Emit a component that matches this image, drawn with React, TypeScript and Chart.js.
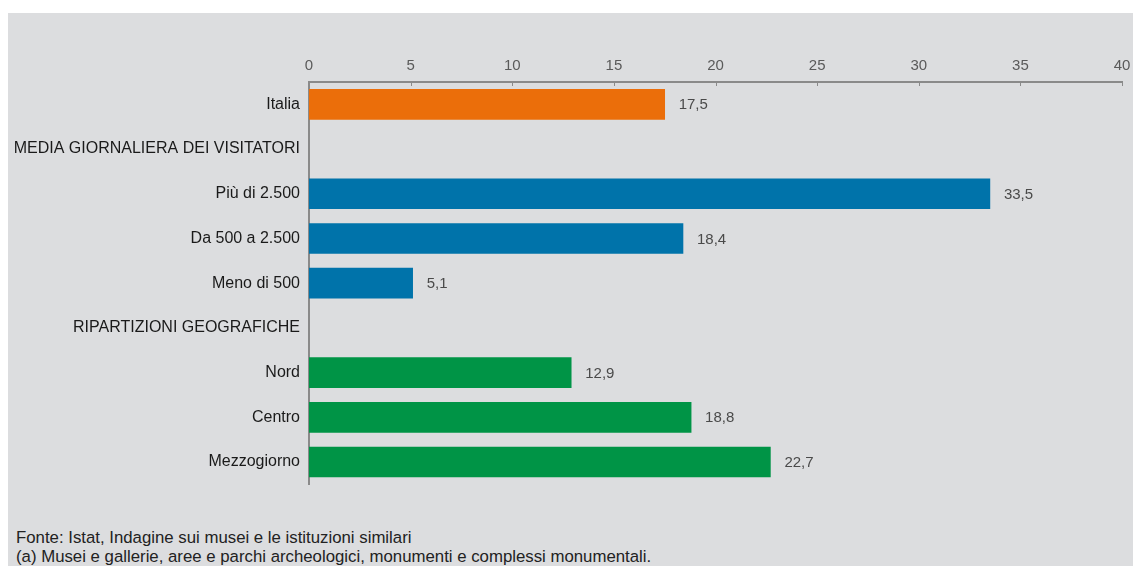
import React, { useEffect, useRef } from "react";
import { Chart, registerables } from "chart.js";

Chart.register(...registerables);

const categories = [
  "Italia",
  "MEDIA GIORNALIERA DEI VISITATORI",
  "Più di 2.500",
  "Da 500 a 2.500",
  "Meno di 500",
  "RIPARTIZIONI GEOGRAFICHE",
  "Nord",
  "Centro",
  "Mezzogiorno",
];
const values: (number | null)[] = [17.5, null, 33.5, 18.4, 5.1, null, 12.9, 18.8, 22.7];
const groups = ["total", "header", "size", "size", "size", "header", "area", "area", "area"];
const xMin = 0;
const xMax = 40;
const xStep = 5;

const groupColors: Record<string, string> = {
  total: "#EB6E0A",
  size: "#0073AA",
  area: "#009446",
  header: "rgba(0,0,0,0)",
};

const FONT = "'Liberation Sans', Arial, sans-serif";
const fmt = (v: number) => v.toFixed(1).replace(".", ",");

const valueLabels = {
  id: "valueLabels",
  afterDatasetsDraw(chart: any) {
    const ctx = chart.ctx;
    const meta = chart.getDatasetMeta(0);
    ctx.save();
    ctx.font = "15px " + FONT;
    ctx.fillStyle = "#4a4a4a";
    ctx.textAlign = "left";
    ctx.textBaseline = "middle";
    meta.data.forEach((el: any, i: number) => {
      const v = values[i];
      if (v == null) return;
      ctx.fillText(fmt(v), el.x + 14, el.y + 1);
    });
    ctx.restore();
  },
};

const innerTicks = {
  id: "innerTicks",
  afterDraw(chart: any) {
    const ctx = chart.ctx;
    const xs = chart.scales.x;
    const top = chart.chartArea.top;
    ctx.save();
    ctx.strokeStyle = "#8a8a8a";
    ctx.lineWidth = 1;
    xs.ticks.forEach((t: any) => {
      const px = Math.round(xs.getPixelForValue(t.value)) + 0.5;
      ctx.beginPath();
      ctx.moveTo(px, top);
      ctx.lineTo(px, top + 4);
      ctx.stroke();
    });
    ctx.restore();
  },
};

export default function App() {
  const ref = useRef<HTMLCanvasElement | null>(null);

  useEffect(() => {
    if (!ref.current) return;
    const chart = new Chart(ref.current, {
      type: "bar",
      data: {
        labels: categories,
        datasets: [
          {
            data: values as any,
            backgroundColor: groups.map((g) => groupColors[g]),
            barThickness: 30,
            borderWidth: 0,
          },
        ],
      },
      options: {
        indexAxis: "y",
        animation: false,
        responsive: false,
        maintainAspectRatio: false,
        layout: { padding: { top: 37, right: 11, bottom: 17, left: 0 } },
        plugins: {
          legend: { display: false },
          tooltip: { enabled: false },
        },
        scales: {
          x: {
            position: "top",
            min: xMin,
            max: xMax,
            ticks: {
              stepSize: xStep,
              color: "#5a5a5a",
              padding: 7,
              font: { family: FONT, size: 15 },
            },
            grid: { display: false, drawTicks: false },
            border: { display: true, color: "#8a8a8a", width: 2 },
            afterFit(scale: any) {
              scale.paddingLeft = 0;
              scale.paddingRight = 0;
            },
          },
          y: {
            ticks: {
              color: "#1a1a1a",
              padding: 9,
              font: { family: FONT, size: 16 },
            },
            grid: { display: false, drawTicks: false },
            border: { display: true, color: "#8a8a8a", width: 2 },
            afterFit(scale: any) {
              scale.width = 301;
            },
          },
        },
      },
      plugins: [valueLabels, innerTicks],
    });
    return () => chart.destroy();
  }, []);

  return (
    <div
      style={{
        position: "fixed",
        left: 8,
        top: 13,
        right: 0,
        bottom: 0,
        background: "#DCDDDF",
        overflow: "hidden",
      }}
    >
      <canvas ref={ref} width={1125} height={490} style={{ display: "block" }} />
      <div
        style={{
          position: "absolute",
          left: 8,
          top: 515,
          fontFamily: "'Liberation Sans Narrow', 'Arial Narrow', 'Liberation Sans', sans-serif",
          fontSize: 16.8,
          lineHeight: "19px",
          color: "#222",
          whiteSpace: "nowrap",
        }}
      >
        <div>Fonte: Istat, Indagine sui musei e le istituzioni similari</div>
        <div>(a) Musei e gallerie, aree e parchi archeologici, monumenti e complessi monumentali.</div>
      </div>
    </div>
  );
}
